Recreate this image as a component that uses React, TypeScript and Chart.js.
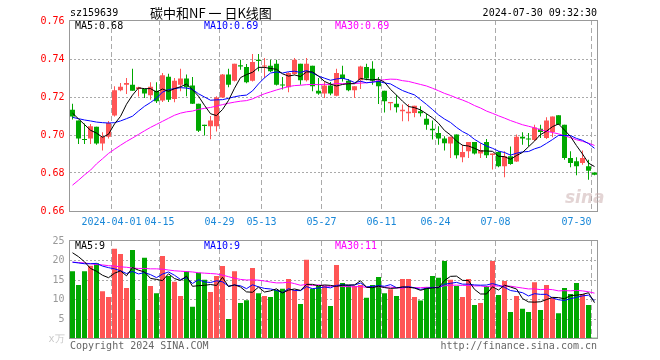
import React, { useEffect, useRef } from 'react';
import { Chart, registerables } from 'chart.js';

Chart.register(...registerables);

// ---------------- data ----------------
const dates = [
  '2024-03-21', '2024-03-22', '2024-03-25', '2024-03-26', '2024-03-27', '2024-03-28', '2024-03-29',
  '2024-04-01', '2024-04-02', '2024-04-03', '2024-04-08', '2024-04-09', '2024-04-10', '2024-04-11', '2024-04-12',
  '2024-04-15', '2024-04-16', '2024-04-17', '2024-04-18', '2024-04-19',
  '2024-04-22', '2024-04-23', '2024-04-24', '2024-04-25', '2024-04-26',
  '2024-04-29', '2024-04-30',
  '2024-05-06', '2024-05-07', '2024-05-08', '2024-05-09', '2024-05-10',
  '2024-05-13', '2024-05-14', '2024-05-15', '2024-05-16', '2024-05-17',
  '2024-05-20', '2024-05-21', '2024-05-22', '2024-05-23', '2024-05-24',
  '2024-05-27', '2024-05-28', '2024-05-29', '2024-05-30', '2024-05-31',
  '2024-06-03', '2024-06-04', '2024-06-05', '2024-06-06', '2024-06-07',
  '2024-06-11', '2024-06-12', '2024-06-13', '2024-06-14',
  '2024-06-17', '2024-06-18', '2024-06-19', '2024-06-20', '2024-06-21',
  '2024-06-24', '2024-06-25', '2024-06-26', '2024-06-27', '2024-06-28',
  '2024-07-01', '2024-07-02', '2024-07-03', '2024-07-04', '2024-07-05',
  '2024-07-08', '2024-07-09', '2024-07-10', '2024-07-11', '2024-07-12',
  '2024-07-15', '2024-07-16', '2024-07-17', '2024-07-18', '2024-07-19',
  '2024-07-22', '2024-07-23', '2024-07-24', '2024-07-25', '2024-07-26',
  '2024-07-29', '2024-07-30',
];

const tickDates = ['2024-04-01', '2024-04-15', '2024-04-29', '2024-05-13', '2024-05-27', '2024-06-11', '2024-06-24', '2024-07-08', '2024-07-30'];
const tickLabels = ['2024-04-01', '04-15', '04-29', '05-13', '05-27', '06-11', '06-24', '07-08', '07-30'];

const opens = [
  0.7133, 0.7076, 0.6979, 0.6981, 0.7044, 0.6955, 0.6991, 0.7102, 0.7235, 0.7265,
  0.7265, 0.7242, 0.7242, 0.7209, 0.7233, 0.7182, 0.7307, 0.7189, 0.7265, 0.7297,
  0.7261, 0.7165, 0.7054, 0.7046, 0.7046, 0.7198, 0.7318, 0.7286, 0.7367, 0.7358,
  0.7286, 0.7396, 0.7360, 0.7365, 0.7375, 0.7265, 0.7251, 0.7321, 0.7375, 0.7288,
  0.7365, 0.7233, 0.7218, 0.7261, 0.7207, 0.7318, 0.7286, 0.7235, 0.7288, 0.7358,
  0.7349, 0.7286, 0.7233, 0.7167, 0.7165, 0.7125, 0.7114, 0.7116, 0.7125, 0.7086,
  0.7033, 0.7011, 0.6981, 0.6955, 0.7002, 0.6883, 0.6914, 0.6963, 0.6902, 0.6963,
  0.6895, 0.6911, 0.6835, 0.6888, 0.6861, 0.6991, 0.6981, 0.6974, 0.7033, 0.6984,
  0.7016, 0.7104, 0.7054, 0.6879, 0.6862, 0.6853, 0.6835, 0.6802,
];
const highs = [
  0.7165, 0.7076, 0.7060, 0.7058, 0.7044, 0.7014, 0.7074, 0.7256, 0.7274, 0.7300,
  0.7349, 0.7254, 0.7242, 0.7277, 0.7277, 0.7326, 0.7323, 0.7300, 0.7349, 0.7318,
  0.7305, 0.7165, 0.7054, 0.7100, 0.7204, 0.7321, 0.7349, 0.7375, 0.7396, 0.7374,
  0.7426, 0.7426, 0.7405, 0.7396, 0.7396, 0.7305, 0.7330, 0.7405, 0.7375, 0.7405,
  0.7365, 0.7300, 0.7282, 0.7279, 0.7349, 0.7365, 0.7295, 0.7256, 0.7365, 0.7375,
  0.7388, 0.7305, 0.7233, 0.7174, 0.7212, 0.7160, 0.7163, 0.7154, 0.7151, 0.7112,
  0.7076, 0.7046, 0.6993, 0.6991, 0.7002, 0.6949, 0.6963, 0.6963, 0.6956, 0.6979,
  0.6902, 0.6914, 0.6914, 0.6940, 0.7002, 0.7014, 0.7011, 0.7054, 0.7054, 0.7093,
  0.7098, 0.7104, 0.7054, 0.6914, 0.6883, 0.6918, 0.6870, 0.6802,
];
const lows = [
  0.7081, 0.6953, 0.6953, 0.6953, 0.6949, 0.6918, 0.6981, 0.7098, 0.7230, 0.7216,
  0.7233, 0.7202, 0.7195, 0.7186, 0.7168, 0.7174, 0.7174, 0.7172, 0.7230, 0.7204,
  0.7163, 0.7016, 0.6998, 0.6977, 0.7019, 0.7195, 0.7251, 0.7282, 0.7344, 0.7272,
  0.7282, 0.7335, 0.7300, 0.7332, 0.7261, 0.7239, 0.7225, 0.7318, 0.7265, 0.7282,
  0.7230, 0.7212, 0.7195, 0.7209, 0.7204, 0.7282, 0.7230, 0.7195, 0.7242, 0.7288,
  0.7265, 0.7163, 0.7119, 0.7130, 0.7119, 0.7072, 0.7072, 0.7093, 0.7098, 0.7028,
  0.6976, 0.6949, 0.6918, 0.6879, 0.6876, 0.6856, 0.6879, 0.6897, 0.6879, 0.6879,
  0.6818, 0.6830, 0.6777, 0.6844, 0.6858, 0.6949, 0.6940, 0.6967, 0.6984, 0.6979,
  0.6988, 0.7054, 0.6870, 0.6830, 0.6788, 0.6844, 0.6765, 0.6788,
];
const closes = [
  0.7098, 0.6981, 0.6974, 0.7046, 0.6955, 0.6991, 0.7063, 0.7235, 0.7254, 0.7274,
  0.7233, 0.7251, 0.7218, 0.7254, 0.7177, 0.7314, 0.7186, 0.7286, 0.7298, 0.7251,
  0.7165, 0.7023, 0.7047, 0.7076, 0.7198, 0.7318, 0.7265, 0.7375, 0.7360, 0.7277,
  0.7384, 0.7389, 0.7365, 0.7335, 0.7265, 0.7260, 0.7326, 0.7396, 0.7288, 0.7375,
  0.7256, 0.7218, 0.7261, 0.7218, 0.7326, 0.7295, 0.7235, 0.7256, 0.7361, 0.7297,
  0.7286, 0.7256, 0.7177, 0.7174, 0.7146, 0.7133, 0.7123, 0.7154, 0.7114, 0.7054,
  0.7025, 0.6981, 0.6956, 0.6991, 0.6893, 0.6911, 0.6963, 0.6902, 0.6921, 0.6893,
  0.6902, 0.6835, 0.6888, 0.6847, 0.6991, 0.6981, 0.6976, 0.7040, 0.7016, 0.7076,
  0.7098, 0.7054, 0.6879, 0.6853, 0.6835, 0.6879, 0.6812, 0.6791,
];

const priceMa5 = [
  0.7115, 0.7085, 0.7055, 0.7025, 0.7010, 0.6988, 0.7004, 0.7058, 0.7098, 0.7162,
  0.7210, 0.7248, 0.7244, 0.7244, 0.7226, 0.7242, 0.7230, 0.7244, 0.7254, 0.7268,
  0.7238, 0.7204, 0.7156, 0.7112, 0.7102, 0.7134, 0.7182, 0.7246, 0.7302, 0.7318,
  0.7330, 0.7356, 0.7356, 0.7350, 0.7346, 0.7322, 0.7310, 0.7316, 0.7308, 0.7332,
  0.7332, 0.7310, 0.7282, 0.7268, 0.7258, 0.7266, 0.7270, 0.7270, 0.7298, 0.7292,
  0.7290, 0.7294, 0.7278, 0.7240, 0.7210, 0.7178, 0.7150, 0.7144, 0.7132, 0.7112,
  0.7090, 0.7062, 0.7024, 0.7000, 0.6968, 0.6946, 0.6942, 0.6930, 0.6916, 0.6916,
  0.6914, 0.6888, 0.6886, 0.6872, 0.6892, 0.6908, 0.6938, 0.6968, 0.7002, 0.7020,
  0.7044, 0.7058, 0.7026, 0.6992, 0.6944, 0.6900, 0.6852, 0.6834,
];
const priceMa10 = [
  0.7093, 0.7086, 0.7079, 0.7074, 0.7068, 0.7065, 0.7063, 0.7065, 0.7074, 0.7086,
  0.7099, 0.7126, 0.7151, 0.7171, 0.7194, 0.7226, 0.7239, 0.7244, 0.7249, 0.7247,
  0.7240, 0.7217, 0.7200, 0.7183, 0.7185, 0.7186, 0.7193, 0.7201, 0.7207, 0.7210,
  0.7232, 0.7269, 0.7301, 0.7326, 0.7332, 0.7326, 0.7333, 0.7336, 0.7329, 0.7339,
  0.7327, 0.7310, 0.7299, 0.7288, 0.7295, 0.7299, 0.7290, 0.7276, 0.7283, 0.7275,
  0.7278, 0.7282, 0.7274, 0.7269, 0.7251, 0.7234, 0.7222, 0.7211, 0.7186, 0.7161,
  0.7134, 0.7106, 0.7084, 0.7066, 0.7040, 0.7018, 0.7002, 0.6977, 0.6958, 0.6942,
  0.6930, 0.6915, 0.6908, 0.6894, 0.6904, 0.6911, 0.6913, 0.6927, 0.6937, 0.6956,
  0.6976, 0.6998, 0.6997, 0.6997, 0.6982, 0.6972, 0.6955, 0.6930,
];
const priceMa30 = [
  0.6736, 0.6762, 0.6790, 0.6815, 0.6848, 0.6875, 0.6903, 0.6925, 0.6946, 0.6966,
  0.6984, 0.7003, 0.7022, 0.7040, 0.7056, 0.7072, 0.7088, 0.7104, 0.7115, 0.7122,
  0.7126, 0.7135, 0.7140, 0.7145, 0.7152, 0.7160, 0.7167, 0.7173, 0.7178, 0.7181,
  0.7190, 0.7204, 0.7217, 0.7227, 0.7237, 0.7246, 0.7255, 0.7260, 0.7262, 0.7265,
  0.7266, 0.7265, 0.7267, 0.7266, 0.7271, 0.7270, 0.7272, 0.7271, 0.7273, 0.7275,
  0.7279, 0.7287, 0.7291, 0.7294, 0.7293, 0.7286, 0.7282, 0.7274, 0.7266, 0.7258,
  0.7246, 0.7233, 0.7219, 0.7208, 0.7195, 0.7184, 0.7171, 0.7155, 0.7142, 0.7126,
  0.7114, 0.7101, 0.7089, 0.7076, 0.7065, 0.7054, 0.7046, 0.7038, 0.7027, 0.7020,
  0.7013, 0.7006, 0.6996, 0.6986, 0.6975, 0.6967, 0.6957, 0.6945,
];

// volume in 万
const volumes = [
  17.3, 13.8, 17.3, 18.7, 19.3, 12.2, 10.7, 23.0, 21.7, 13.0,
  22.7, 7.4, 20.7, 13.5, 11.7, 21.2, 16.1, 14.6, 11.0, 17.3,
  8.2, 16.9, 15.1, 12.0, 16.1, 18.6, 5.1, 17.3, 9.2, 9.9,
  18.1, 11.7, 11.0, 10.7, 12.5, 12.8, 15.3, 12.5, 8.9, 20.2,
  12.8, 13.5, 13.5, 8.4, 18.9, 14.3, 13.8, 13.5, 13.8, 10.5,
  13.8, 15.8, 11.7, 12.7, 11.0, 15.3, 15.3, 10.7, 9.8, 13.2,
  16.1, 15.6, 19.9, 15.1, 13.5, 10.7, 15.3, 8.7, 9.2, 13.5,
  19.9, 11.2, 14.8, 6.9, 11.0, 7.7, 6.9, 14.5, 7.4, 13.8,
  10.5, 6.6, 13.0, 11.5, 14.3, 11.5, 8.7, 0.3,
];
const volumeMa5 = [
  22.0, 21.0, 19.7, 18.0, 17.28, 16.26, 15.64, 16.78, 17.38, 16.12,
  18.22, 17.56, 17.1, 15.46, 15.2, 14.9, 16.64, 15.42, 14.92, 16.04,
  13.44, 13.6, 13.7, 13.9, 13.66, 15.74, 13.38, 13.82, 13.26, 12.02,
  11.92, 13.24, 11.98, 12.28, 12.8, 11.74, 12.46, 12.76, 12.4, 13.94,
  13.94, 13.58, 13.78, 13.68, 13.42, 13.72, 13.78, 13.78, 14.86, 13.18,
  13.08, 13.48, 13.12, 12.9, 13.0, 13.3, 13.2, 13.0, 12.42, 12.86,
  13.02, 13.08, 14.92, 15.98, 16.04, 14.96, 14.9, 12.66, 11.48, 11.48,
  13.32, 12.5, 13.72, 13.26, 12.76, 10.32, 9.46, 9.4, 9.5, 10.06,
  10.62, 10.56, 10.26, 11.08, 11.18, 11.38, 11.8, 9.26,
];
const volumeMa10 = [
  19.6, 19.4, 19.2, 19.2, 19.3, 18.6, 18.2, 17.9, 17.4, 16.7,
  17.24, 16.6, 16.94, 16.42, 15.66, 16.56, 17.1, 16.26, 15.19, 15.62,
  14.17, 15.12, 14.56, 14.41, 14.85, 14.59, 13.49, 13.76, 13.58, 12.84,
  13.83, 13.31, 12.9, 12.77, 12.41, 11.83, 12.85, 12.37, 12.34, 13.37,
  12.84, 13.02, 13.27, 13.04, 13.68, 13.83, 13.68, 13.78, 14.27, 13.3,
  13.4, 13.63, 13.45, 13.88, 13.09, 13.19, 13.34, 13.06, 12.66, 12.93,
  13.16, 13.14, 13.96, 14.2, 14.45, 13.99, 13.99, 13.79, 13.73, 13.76,
  14.14, 13.7, 13.19, 12.37, 12.12, 11.82, 10.98, 11.56, 11.38, 11.41,
  10.47, 10.01, 9.83, 10.29, 10.62, 11.0, 11.18, 9.76,
];
const volumeMa30 = [
  19.6, 19.5, 19.4, 19.2, 19.0, 18.9, 18.7, 18.6, 18.4, 18.3,
  18.1, 18.0, 18.0, 17.9, 17.9, 17.8, 17.6, 17.4, 17.3, 17.2,
  17.1, 16.9, 16.8, 16.7, 16.6, 16.3, 15.9, 15.5, 15.2, 15.05,
  15.08, 15.01, 14.8, 14.53, 14.31, 14.33, 14.48, 14.13, 13.7, 13.94,
  13.61, 13.82, 13.58, 13.41, 13.65, 13.42, 13.34, 13.3, 13.4, 13.17,
  13.36, 13.32, 13.21, 13.23, 13.06, 12.95, 13.29, 13.07, 13.09, 13.2,
  13.13, 13.26, 13.56, 13.71, 13.74, 13.67, 13.67, 13.54, 13.55, 13.33,
  13.57, 13.49, 13.53, 13.48, 13.22, 13.0, 12.77, 12.8, 12.59, 12.7,
  12.59, 12.28, 12.33, 12.29, 12.4, 12.27, 12.05, 11.7,
];

const priceTicks = [0.66, 0.68, 0.70, 0.72, 0.74, 0.76];
const volumeTicks = [0, 5, 10, 15, 20, 25];
const mainLegend = ['MA5:0.68', 'MA10:0.69', 'MA30:0.69'];
const volumeLegend = ['MA5:9', 'MA10:9', 'MA30:11'];
const symbolText = 'sz159639';
const titleText = '碳中和NF 一 日K线图';
const timeText = '2024-07-30 09:32:30';
const copyrightText = 'Copyright 2024 SINA.COM';
const urlText = 'http://finance.sina.com.cn';

// ---------------- styles ----------------
const UP = '#ff5555';
const DOWN = '#00a800';
const MONO = '"DejaVu Sans Mono", "Liberation Mono", monospace';
const GRID = '#aaaaaa';
const FRAME = '#999999';
const LEGEND_COLORS = ['#000000', '#0000ff', '#ff00ff'];
const LEGEND_X = [75, 204, 335];

const candleColors = closes.map((c, i) => (c >= opens[i] ? UP : DOWN));

const xGridColor = (ctx: any) => {
  const d = dates[ctx.index];
  return d !== undefined && tickDates.includes(d) ? GRID : 'rgba(0,0,0,0)';
};

const lineDs = (data: number[], color: string) => ({
  type: 'line' as const,
  data,
  borderColor: color,
  borderWidth: 1,
  pointRadius: 0,
  tension: 0,
  fill: false,
  order: 0,
});

const framePlugin = (topShift: number) => ({
  id: 'frame',
  afterDraw(chart: any) {
    const { ctx, chartArea: a } = chart;
    ctx.save();
    ctx.strokeStyle = FRAME;
    ctx.lineWidth = 1;
    const x = Math.floor(a.left) + 0.5;
    const y = Math.floor(a.top) + 0.5 - topShift;
    const w = Math.round(a.right - a.left);
    const h = Math.round(a.bottom - a.top) - 1 + topShift;
    ctx.strokeRect(x, y, w, h);
    ctx.restore();
  },
});

const mainTextPlugin = {
  id: 'mainText',
  afterDraw(chart: any) {
    const ctx = chart.ctx;
    ctx.save();
    ctx.textBaseline = 'middle';
    ctx.font = `10px ${MONO}`;
    ctx.fillStyle = '#000';
    ctx.textAlign = 'left';
    ctx.fillText(symbolText, 70, 13);
    ctx.textAlign = 'right';
    ctx.fillText(timeText, 597, 13);
    ctx.textAlign = 'left';
    ctx.font = '13px "Noto Sans CJK SC", sans-serif';
    ctx.fillText(titleText, 150, 13);
    ctx.font = `10px ${MONO}`;
    mainLegend.forEach((t, i) => {
      ctx.fillStyle = LEGEND_COLORS[i];
      ctx.fillText(t, LEGEND_X[i], 26);
    });
    ctx.font = 'italic bold 17px "DejaVu Sans", sans-serif';
    ctx.fillStyle = 'rgba(200,170,170,0.5)';
    ctx.fillText('sina', 565, 199);
    ctx.restore();
  },
};

const volTextPlugin = {
  id: 'volText',
  afterDraw(chart: any) {
    const ctx = chart.ctx;
    ctx.save();
    ctx.textBaseline = 'middle';
    ctx.font = `10px ${MONO}`;
    volumeLegend.forEach((t, i) => {
      ctx.fillStyle = LEGEND_COLORS[i];
      ctx.textAlign = 'left';
      ctx.fillText(t, LEGEND_X[i], 246);
    });
    ctx.fillStyle = '#666';
    ctx.textAlign = 'left';
    ctx.fillText(copyrightText, 70, 346);
    ctx.textAlign = 'right';
    ctx.fillText(urlText, 597, 346);
    ctx.restore();
  },
};

export default function App() {
  const mainRef = useRef<HTMLCanvasElement | null>(null);
  const volRef = useRef<HTMLCanvasElement | null>(null);

  useEffect(() => {
    if (!mainRef.current || !volRef.current) return;
    const pxPerUnit = 1900;
    const mainChart = new Chart(mainRef.current, {
      type: 'bar',
      data: {
        labels: dates,
        datasets: [
          lineDs(priceMa5, LEGEND_COLORS[0]),
          lineDs(priceMa10, LEGEND_COLORS[1]),
          lineDs(priceMa30, LEGEND_COLORS[2]),
          {
            type: 'bar',
            data: opens.map((o, i) => [o, closes[i]]),
            backgroundColor: candleColors,
            borderWidth: 0,
            barThickness: 5,
            minBarLength: 1,
            grouped: false,
            inflateAmount: 0,
            order: 1,
          },
          {
            type: 'bar',
            data: lows.map((l, i) => [l, highs[i]]),
            backgroundColor: candleColors,
            borderWidth: 0,
            barThickness: 1,
            grouped: false,
            inflateAmount: 0,
            order: 2,
          },
        ] as any,
      },
      options: {
        responsive: false,
        animation: false,
        events: [],
        devicePixelRatio: 1,
        layout: { padding: { left: 0, top: 20, right: 62.5, bottom: 130 } },
        plugins: { legend: { display: false }, tooltip: { enabled: false }, title: { display: false } },
        scales: {
          x: {
            type: 'category',
            offset: true,
            grid: { offset: true, drawTicks: false, color: xGridColor, lineWidth: 1 },
            border: { display: false, dash: [5, 3] },
            ticks: {
              autoSkip: false,
              maxRotation: 0,
              minRotation: 0,
              align: 'inner',
              labelOffset: -3,
              padding: 4,
              color: '#1a88d8',
              font: { family: MONO, size: 10 },
              callback: (_v: any, i: number) => {
                const k = tickDates.indexOf(dates[i]);
                return k >= 0 ? tickLabels[k] : '';
              },
            },
            afterFit: (s: any) => { s.height = 18; },
          },
          y: {
            type: 'linear',
            beginAtZero: false,
            min: 0.66 - 1 / pxPerUnit,
            max: 0.76 + 1 / pxPerUnit,
            afterBuildTicks: (s: any) => { s.ticks = priceTicks.map((v) => ({ value: v })); },
            grid: {
              drawTicks: false,
              color: (ctx: any) => {
                const v = ctx.tick ? ctx.tick.value : 0;
                return v > 0.661 && v < 0.759 ? GRID : 'rgba(0,0,0,0)';
              },
            },
            border: { display: false, dash: [2, 2] },
            ticks: {
              padding: 5,
              color: '#ff0000',
              font: { family: MONO, size: 10 },
              callback: (v: any) => Number(v).toFixed(2),
            },
            afterFit: (s: any) => { s.width = 69.5; },
          },
        },
      } as any,
      plugins: [framePlugin(0), mainTextPlugin],
    });

    const volChart = new Chart(volRef.current, {
      type: 'bar',
      data: {
        labels: dates,
        datasets: [
          lineDs(volumeMa5, LEGEND_COLORS[0]),
          lineDs(volumeMa10, LEGEND_COLORS[1]),
          lineDs(volumeMa30, LEGEND_COLORS[2]),
          {
            type: 'bar',
            data: volumes,
            backgroundColor: candleColors,
            borderWidth: 0,
            barThickness: 5,
            grouped: false,
            inflateAmount: 0,
            order: 1,
          },
        ] as any,
      },
      options: {
        responsive: false,
        animation: false,
        events: [],
        devicePixelRatio: 1,
        layout: { padding: { left: 0, top: 241, right: 62.5, bottom: 21 } },
        plugins: { legend: { display: false }, tooltip: { enabled: false }, title: { display: false } },
        scales: {
          x: {
            type: 'category',
            offset: true,
            grid: { offset: true, drawTicks: false, color: xGridColor, lineWidth: 1 },
            border: { display: false, dash: [5, 3] },
            ticks: { display: false },
            afterFit: (s: any) => { s.height = 0; },
          },
          y: {
            type: 'linear',
            beginAtZero: true,
            min: 0,
            max: 25,
            afterBuildTicks: (s: any) => { s.ticks = volumeTicks.map((v) => ({ value: v })); },
            grid: {
              drawTicks: false,
              color: (ctx: any) => {
                const v = ctx.tick ? ctx.tick.value : 0;
                return v > 0 && v < 25 ? GRID : 'rgba(0,0,0,0)';
              },
            },
            border: { display: false, dash: [2, 2] },
            ticks: {
              padding: 5,
              color: (ctx: any) => (ctx.tick && ctx.tick.value === 0 ? '#c8c8c8' : '#999999'),
              font: { family: MONO, size: 10 },
              callback: (v: any) => (Number(v) === 0 ? 'x万' : String(v)),
            },
            afterFit: (s: any) => { s.width = 69.5; },
          },
        },
      } as any,
      plugins: [framePlugin(1), volTextPlugin],
    });

    return () => {
      mainChart.destroy();
      volChart.destroy();
    };
  }, []);

  const canvasStyle: React.CSSProperties = { position: 'absolute', left: 0, top: 0, width: 660, height: 360 };
  return (
    <div style={{ position: 'absolute', left: 0, top: 0, width: 660, height: 360, background: '#fff' }}>
      <canvas ref={mainRef} width={660} height={360} style={canvasStyle} />
      <canvas ref={volRef} width={660} height={360} style={canvasStyle} />
    </div>
  );
}
